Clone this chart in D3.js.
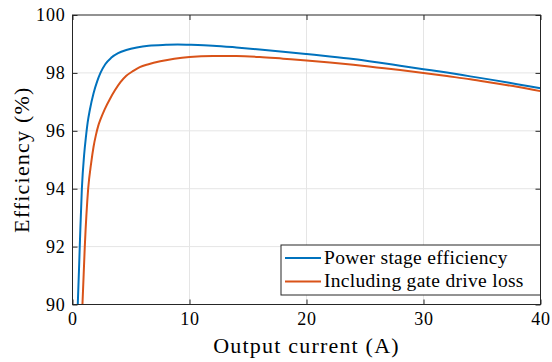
<!DOCTYPE html>
<html>
<head>
<meta charset="utf-8">
<script src="https://cdn.jsdelivr.net/npm/d3@7"></script>
<style>
  body { margin: 0; background: #fff; }
</style>
</head>
<body>
<div id="chart"></div>
<script>
// output current (A) and efficiency (%)
const currentPower = [0.40, 0.45, 0.62, 0.80, 1.0, 1.15, 1.3, 1.48, 1.8, 2.1, 2.39, 2.8, 3.3, 3.9, 4.6, 5.5, 6.5, 8, 9, 10, 12, 14, 16, 18, 20, 22, 24, 26, 28, 30, 32, 34, 36, 38, 40];
const effPower = [89.6, 90.0, 92.0, 94.0, 95.2, 95.8, 96.3, 96.72, 97.3, 97.7, 98.0, 98.3, 98.52, 98.68, 98.79, 98.88, 98.94, 98.97, 98.98, 98.97, 98.94, 98.88, 98.81, 98.73, 98.65, 98.57, 98.48, 98.37, 98.25, 98.13, 98.01, 97.88, 97.75, 97.61, 97.47];

const currentGate = [0.80, 0.85, 1.05, 1.34, 1.6, 1.8, 2.0, 2.2, 2.4, 2.76, 3.2, 3.6, 4.1, 4.6, 5.2, 5.75, 6.5, 7.5, 8.7, 10, 12, 14, 16, 18, 20, 22, 24, 26, 28, 30, 32, 34, 36, 38, 40];
const effGate = [89.6, 90.0, 92.0, 94.0, 94.9, 95.45, 95.85, 96.17, 96.4, 96.75, 97.1, 97.38, 97.68, 97.9, 98.07, 98.2, 98.3, 98.4, 98.49, 98.55, 98.58, 98.58, 98.55, 98.49, 98.43, 98.36, 98.28, 98.19, 98.1, 98.0, 97.89, 97.78, 97.65, 97.52, 97.37];

const seriesNames = ["Power stage efficiency", "Including gate drive loss"];
const seriesColors = ["#0072BD", "#D95319"];
const xTicks = [0, 10, 20, 30, 40];
const yTicks = [90, 92, 94, 96, 98, 100];

const width = 552, height = 362;
const margin = { top: 15, right: 11.5, bottom: 57.5, left: 72.5 };
const iw = width - margin.left - margin.right;
const ih = height - margin.top - margin.bottom;
const serif = "'Liberation Serif', 'DejaVu Serif', serif";

const svg = d3.select("#chart").append("svg")
  .attr("width", width)
  .attr("height", height);

const x = d3.scaleLinear().domain([0, 40]).range([0, iw]);
const y = d3.scaleLinear().domain([90, 100]).range([ih, 0]);

const g = svg.append("g").attr("transform", `translate(${margin.left},${margin.top})`);

// grid
g.append("g").selectAll("line").data(xTicks.slice(1, -1)).join("line")
  .attr("x1", d => x(d)).attr("x2", d => x(d))
  .attr("y1", 0).attr("y2", ih)
  .attr("stroke", "#e5e5e5").attr("stroke-width", 1);
g.append("g").selectAll("line").data(yTicks.slice(1, -1)).join("line")
  .attr("y1", d => y(d)).attr("y2", d => y(d))
  .attr("x1", 0).attr("x2", iw)
  .attr("stroke", "#e5e5e5").attr("stroke-width", 1);

// lines
svg.append("clipPath").attr("id", "clip")
  .append("rect").attr("width", iw).attr("height", ih);

const line = d3.line()
  .x(d => x(d[0]))
  .y(d => y(d[1]))
  .curve(d3.curveMonotoneX);

const series = [
  d3.zip(currentPower, effPower),
  d3.zip(currentGate, effGate)
];

g.append("g").attr("clip-path", "url(#clip)")
  .selectAll("path").data(series).join("path")
  .attr("d", line)
  .attr("fill", "none")
  .attr("stroke", (d, i) => seriesColors[i])
  .attr("stroke-width", 2);

// axes (ticks inside, on all sides)
const axisColor = "#262626";
const tickLen = 5;
function styleAxis(sel) {
  sel.attr("font-family", serif).attr("font-size", 18);
  sel.select(".domain").remove();
  sel.selectAll(".tick line").attr("stroke", axisColor).attr("stroke-width", 1);
  sel.selectAll("text").attr("fill", "#000").attr("letter-spacing", 0.8);
}

g.append("g").attr("transform", `translate(0,${ih})`)
  .call(d3.axisBottom(x).tickValues(xTicks).tickSize(-tickLen).tickPadding(8))
  .call(styleAxis);
g.append("g")
  .call(d3.axisTop(x).tickValues(xTicks).tickSize(-tickLen).tickFormat(""))
  .call(styleAxis);
g.append("g")
  .call(d3.axisLeft(y).tickValues(yTicks).tickSize(-tickLen).tickPadding(7))
  .call(styleAxis);
g.append("g").attr("transform", `translate(${iw},0)`)
  .call(d3.axisRight(y).tickValues(yTicks).tickSize(-tickLen).tickFormat(""))
  .call(styleAxis);

g.append("rect")
  .attr("width", iw).attr("height", ih)
  .attr("fill", "none").attr("stroke", axisColor).attr("stroke-width", 1);

// axis labels
svg.append("text")
  .attr("x", margin.left + iw / 2).attr("y", 353)
  .attr("text-anchor", "middle")
  .attr("font-family", serif).attr("font-size", 22)
  .attr("letter-spacing", 1.2)
  .text("Output current (A)");
svg.append("text")
  .attr("transform", `translate(29,${margin.top + ih / 2}) rotate(-90)`)
  .attr("text-anchor", "middle")
  .attr("font-family", serif).attr("font-size", 22)
  .attr("letter-spacing", 1.2)
  .text("Efficiency (%)");

// legend
const legend = svg.append("g").attr("transform", "translate(281,245)");
legend.append("rect")
  .attr("width", 259.5).attr("height", 50)
  .attr("fill", "#fff").attr("stroke", axisColor).attr("stroke-width", 1);
const items = legend.selectAll("g").data(seriesNames).join("g")
  .attr("transform", (d, i) => `translate(0,${13 + i * 23.5})`);
items.append("line")
  .attr("x1", 4).attr("x2", 40)
  .attr("stroke", (d, i) => seriesColors[i]).attr("stroke-width", 2);
items.append("text")
  .attr("x", 43).attr("y", 5.5)
  .attr("font-family", serif).attr("font-size", 19.5)
  .attr("letter-spacing", 0.3)
  .text(d => d);
</script>
</body>
</html>
